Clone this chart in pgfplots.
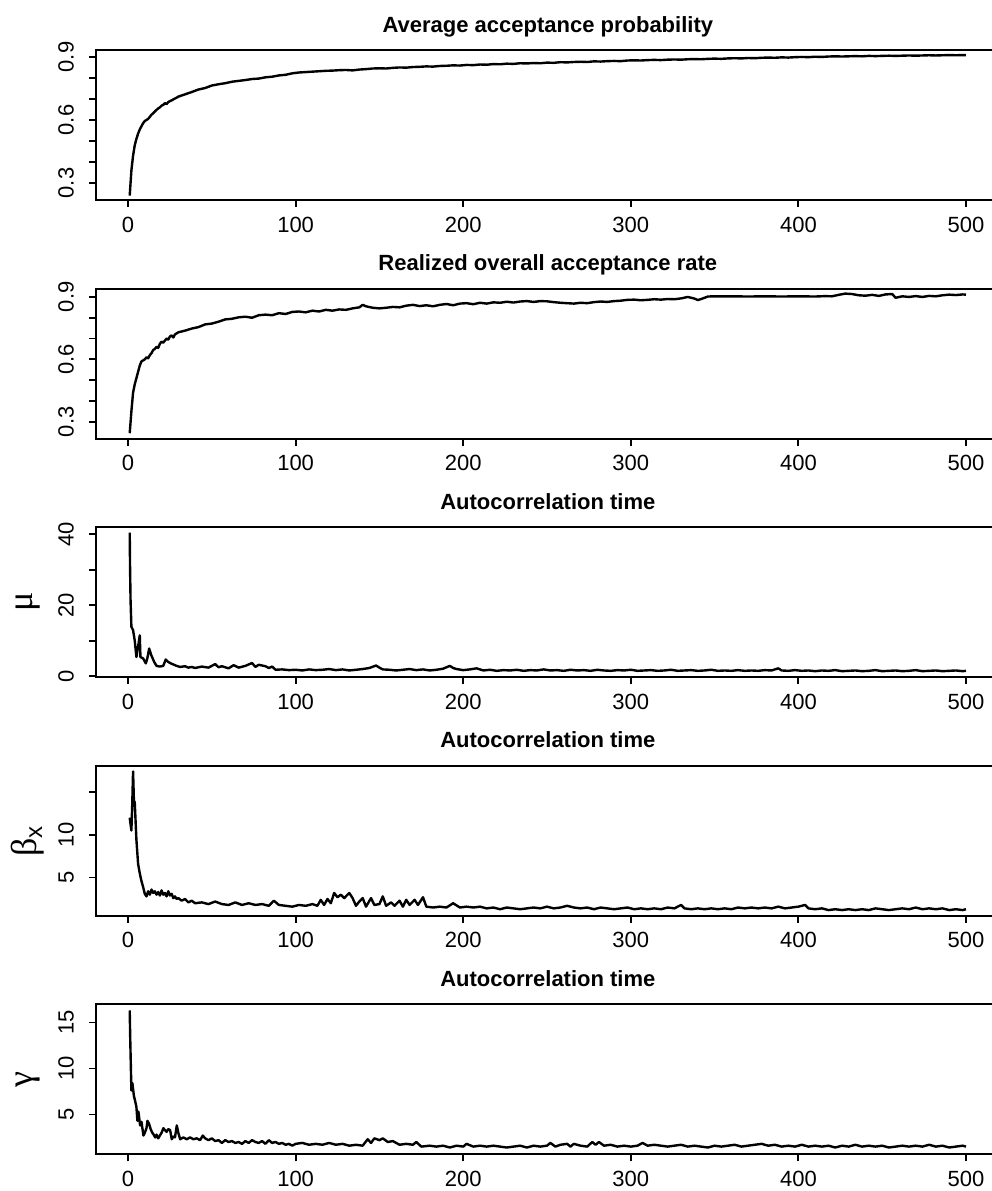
\documentclass[border=0pt]{standalone}
\usepackage{pgfplots}
\pgfplotsset{compat=1.18}
\usepackage{fontspec}
\setmainfont{Liberation Sans}
\newfontfamily\grk{Liberation Serif}

\pgfplotsset{
  rline/.style={black, line width=1.2pt, line join=round, no markers},
  rpanel/.style={
    scale only axis, width=451.65pt, height=75pt,
    xmin=-19, xmax=520,
    xtick={0,100,200,300,400,500},
    tick align=outside, tick pos=left,
    major tick length=3.5pt,
    axis line style={line width=1pt},
    every tick/.style={black, line width=0.9pt},
    tick label style={font=\fontsize{11}{13}\selectfont},
    /pgf/number format/assume math mode=true,
    xticklabel style={yshift=-1.3pt},
    yticklabel style={xshift=-4.2pt, rotate=90, anchor=south},
    title style={font=\bfseries\fontsize{11}{13}\selectfont, at={(0.5,1)}, anchor=base, yshift=3pt},
    ylabel style={at={(axis description cs:-0.0755,0.5)}, anchor=center, font=\fontsize{18}{20}\selectfont},
    anchor=south west,
  }
}

\begin{document}
\begin{tikzpicture}
% Panel 1
\begin{axis}[rpanel, at={(48.1pt,-100pt)}, ymin=0.219, ymax=0.933,
  ytick={0.3,0.4,0.5,0.6,0.7,0.8,0.9}, yticklabels={0.3,,,0.6,,,0.9},
  title={Average acceptance probability}]
\addplot[rline] coordinates {
(1,0.24)(2,0.36)(3,0.43)(4,0.48)(5,0.51)(6,0.535)(7,0.555)(8,0.57)(9,0.585)(10,0.595)
(11,0.60)(12,0.605)(13,0.615)(14,0.625)(15,0.632)(16,0.64)(17,0.648)(18,0.655)(19,0.66)(20,0.668)
(21,0.672)(22,0.680)(23,0.676)(24,0.685)(25,0.690)(26,0.693)(27,0.698)(28,0.702)(29,0.706)(30,0.711)
(34,0.722)(38,0.733)(42,0.745)(46,0.752)(50,0.764)(54,0.770)(58,0.775)(62,0.782)(66,0.786)(70,0.790)
(74,0.795)(78,0.797)(82,0.803)(86,0.806)(90,0.812)(94,0.815)(98,0.822)(102,0.826)(106,0.828)(110,0.830)
(114,0.832)(118,0.834)(122,0.835)(126,0.837)(130,0.838)(134,0.836)(138,0.840)(142,0.842)(146,0.845)(150,0.846)
(154,0.845)(158,0.848)(162,0.850)(166,0.849)(170,0.852)(174,0.853)(178,0.855)(182,0.854)(186,0.857)(190,0.858)
(194,0.860)(198,0.859)(202,0.862)(206,0.861)(210,0.864)(214,0.863)(218,0.866)(222,0.865)(226,0.868)(230,0.867)
(234,0.870)(238,0.869)(242,0.871)(246,0.870)(250,0.873)(254,0.872)(258,0.875)(262,0.874)(266,0.876)(270,0.877)
(274,0.876)(278,0.879)(282,0.878)(286,0.880)(290,0.881)(294,0.880)(298,0.883)(302,0.884)(306,0.883)(310,0.885)
(314,0.886)(318,0.885)(322,0.887)(326,0.888)(330,0.887)(334,0.889)(338,0.890)(342,0.889)(346,0.891)(350,0.892)
(354,0.891)(358,0.893)(362,0.894)(366,0.893)(370,0.895)(374,0.894)(378,0.896)(382,0.897)(386,0.896)(390,0.898)
(394,0.897)(398,0.899)(402,0.900)(406,0.899)(410,0.901)(414,0.900)(418,0.902)(422,0.903)(426,0.902)(430,0.903)
(434,0.904)(438,0.903)(442,0.905)(446,0.904)(450,0.905)(454,0.906)(458,0.905)(462,0.906)(466,0.907)(470,0.906)
(474,0.907)(478,0.908)(482,0.907)(486,0.908)(490,0.909)(494,0.908)(498,0.909)(500,0.909)
};
\end{axis}
% Panel 2
\begin{axis}[rpanel, at={(48.1pt,-219.3pt)}, ymin=0.219, ymax=0.94,
  ytick={0.3,0.4,0.5,0.6,0.7,0.8,0.9}, yticklabels={0.3,,,0.6,,,0.9},
  title={Realized overall acceptance rate}]
\addplot[rline] coordinates {
(1,0.245)(2,0.35)(3,0.44)(4,0.48)(5,0.51)(6,0.54)(7,0.57)(8,0.59)(9,0.595)(10,0.60)
(11,0.61)(12,0.605)(13,0.62)(14,0.63)(15,0.645)(16,0.65)(17,0.66)(18,0.655)(19,0.675)(20,0.685)
(21,0.68)(22,0.69)(23,0.70)(24,0.695)(25,0.71)(26,0.715)(27,0.705)(28,0.72)(29,0.725)(30,0.73)
(34,0.738)(38,0.748)(42,0.755)(46,0.768)(50,0.772)(54,0.781)(58,0.792)(62,0.795)(66,0.802)(70,0.805)
(74,0.800)(78,0.812)(82,0.815)(86,0.812)(90,0.822)(94,0.818)(98,0.828)(102,0.830)(106,0.826)(110,0.834)
(114,0.830)(118,0.838)(122,0.834)(126,0.840)(130,0.838)(134,0.845)(138,0.850)(140,0.862)(142,0.855)(146,0.848)
(150,0.845)(154,0.848)(158,0.852)(162,0.850)(166,0.858)(170,0.862)(174,0.856)(178,0.860)(182,0.855)(186,0.862)
(190,0.866)(194,0.860)(198,0.868)(202,0.870)(206,0.865)(210,0.872)(214,0.868)(218,0.874)(222,0.872)(226,0.877)
(230,0.873)(234,0.878)(238,0.880)(242,0.876)(246,0.880)(250,0.879)(254,0.875)(258,0.872)(262,0.870)(266,0.868)
(270,0.872)(274,0.870)(278,0.875)(282,0.878)(286,0.876)(290,0.880)(294,0.882)(298,0.886)(302,0.887)(306,0.884)
(310,0.886)(314,0.889)(318,0.887)(322,0.890)(326,0.889)(330,0.893)(334,0.900)(338,0.892)(340,0.885)(342,0.890)
(346,0.902)(350,0.903)(360,0.903)(370,0.902)(380,0.903)(390,0.902)(400,0.903)(410,0.902)(416,0.904)(420,0.903)
(424,0.910)(428,0.916)(432,0.914)(436,0.908)(440,0.906)(444,0.910)(448,0.905)(452,0.912)(456,0.914)(458,0.896)
(462,0.903)(466,0.900)(470,0.904)(474,0.900)(478,0.905)(482,0.903)(486,0.908)(490,0.911)(494,0.909)(498,0.912)(500,0.911)
};
\end{axis}
% Panel 3
\begin{axis}[rpanel, at={(48.1pt,-338.6pt)}, ymin=-0.3, ymax=42,
  ytick={0,10,20,30,40}, yticklabels={0,,20,,40},
  title={Autocorrelation time}, ylabel={\grk μ}]
\addplot[rline] coordinates {
(1,40.5)(1.2,30.8)(1.5,21.4)(2,13.9)(3,13.0)(4,10.0)(5,5.4)(6,8.3)(7,11.5)(7.4,5.4)
(9,5.0)(10.6,3.6)(11.5,5.0)(12.6,7.8)(13.8,6.0)(15.6,4.0)(17,2.9)(19,2.7)(21,2.9)(22.5,4.7)
(24,4.0)(25.5,3.6)(27,3.3)(29,2.9)(31,2.6)
(34,2.8)(36,2.4)(38,2.6)(40,2.3)(44,2.7)(48,2.4)(52,3.4)(54,2.5)(56,2.8)(60,2.2)
(63,3.1)(66,2.4)(70,2.9)(74,3.7)(76,2.6)(78,3.2)(82,2.8)(84,2.3)(86,2.7)(88,1.8)
(92,1.9)(96,1.7)(100,1.8)(104,1.6)(108,1.9)(112,1.7)(116,1.8)(120,2.0)(124,1.7)(128,1.9)
(132,1.6)(136,1.8)(140,2.0)(144,2.3)(148,3.0)(150,2.4)(152,1.9)(156,1.8)(160,1.6)(164,1.8)
(168,2.0)(172,1.7)(176,1.9)(180,1.6)(184,1.8)(188,2.1)(192,2.9)(194,2.3)(196,2.0)(200,1.7)
(204,1.9)(208,2.2)(212,1.6)(216,1.8)(220,1.5)(224,1.7)(228,1.6)(232,1.8)(236,1.5)(240,1.7)
(244,1.6)(248,1.9)(252,1.6)(256,1.7)(260,1.5)(264,1.8)(268,1.6)(272,1.7)(276,1.5)(280,1.8)
(284,1.6)(288,1.5)(292,1.7)(296,1.6)(300,1.8)(304,1.5)(308,1.6)(312,1.7)(316,1.5)(320,1.6)
(324,1.8)(328,1.5)(332,1.6)(336,1.7)(340,1.5)(344,1.6)(348,1.8)(352,1.5)(356,1.6)(360,1.5)
(364,1.7)(368,1.5)(372,1.6)(376,1.5)(380,1.7)(384,1.6)(388,2.2)(390,1.6)(394,1.5)(398,1.7)
(402,1.5)(406,1.6)(410,1.4)(414,1.6)(418,1.5)(422,1.7)(426,1.4)(430,1.5)(434,1.6)(438,1.4)
(442,1.5)(446,1.7)(450,1.4)(454,1.5)(458,1.6)(462,1.4)(466,1.5)(470,1.7)(474,1.4)(478,1.5)
(482,1.6)(486,1.4)(490,1.5)(494,1.6)(498,1.4)(500,1.5)
};
\end{axis}
% Panel 4
\begin{axis}[rpanel, at={(48.1pt,-457.9pt)}, ymin=0.53, ymax=18.06,
  ytick={5,10,15}, yticklabels={5,10,},
  title={Autocorrelation time}, ylabel={{\grk β}\textsubscript{\fontsize{12}{14}\selectfont x}}]
\addplot[rline] coordinates {
(1,12.0)(2,10.5)(2.5,13.5)(3,17.4)(3.5,14.0)(4,13.8)(5,9.4)(6,6.6)(7,5.5)(8,4.6)
(9,3.9)(10,3.1)(11,2.8)(12,3.4)(13,3.0)(14,3.6)(15,3.2)(16,3.4)(17,3.0)(18,3.3)
(19,2.9)(20,3.5)(21,3.0)(22,3.2)(23,2.8)(24,3.4)(25,2.9)(26,3.1)(27,2.6)(28,2.8)
(29,2.5)(30,2.6)(32,2.3)(34,2.5)(36,2.1)(38,2.3)(40,2.0)(44,2.1)(48,1.9)(52,2.2)
(56,1.9)(60,1.8)(64,2.1)(68,1.8)(72,2.0)(76,1.8)(80,1.9)(84,1.7)(87,2.3)(90,1.8)
(94,1.7)(98,1.6)(102,1.8)(106,1.7)(110,1.9)(113,1.7)(115,2.4)(117,1.8)(119,2.5)(121,2.0)
(123,3.2)(125,2.7)(127,3.0)(129,2.6)(132,3.2)(134,2.6)(136,1.7)(138,2.2)(140,2.6)(142,1.6)
(145,2.6)(147,1.8)(150,1.9)(152,2.8)(154,1.7)(157,2.1)(159,1.7)(162,2.3)(164,1.6)(166,2.4)
(168,1.8)(171,2.4)(173,1.8)(176,2.7)(178,1.6)(182,1.5)(186,1.6)(190,1.5)(194,2.0)(198,1.5)
(202,1.6)(206,1.5)(210,1.6)(214,1.4)(218,1.5)(222,1.3)(226,1.5)(230,1.4)(234,1.3)(238,1.4)
(242,1.5)(246,1.4)(250,1.6)(254,1.4)(258,1.5)(262,1.7)(266,1.5)(270,1.4)(274,1.5)(278,1.3)
(282,1.5)(286,1.4)(290,1.3)(294,1.4)(298,1.5)(302,1.3)(306,1.4)(310,1.3)(314,1.4)(318,1.3)
(322,1.5)(326,1.4)(330,1.8)(332,1.4)(336,1.3)(340,1.4)(344,1.3)(348,1.4)(352,1.3)(356,1.4)
(360,1.3)(364,1.5)(368,1.4)(372,1.5)(376,1.4)(380,1.5)(384,1.4)(388,1.6)(392,1.4)(396,1.5)
(400,1.6)(404,1.8)(406,1.4)(410,1.3)(414,1.4)(418,1.2)(422,1.3)(426,1.2)(430,1.3)(434,1.2)
(438,1.3)(442,1.2)(446,1.4)(450,1.3)(454,1.2)(458,1.3)(462,1.4)(466,1.3)(470,1.5)(474,1.3)
(478,1.4)(482,1.3)(486,1.4)(490,1.2)(494,1.3)(498,1.2)(500,1.3)
};
\end{axis}
% Panel 5
\begin{axis}[rpanel, at={(48.1pt,-577.2pt)}, ymin=0.65, ymax=16.96,
  ytick={5,10,15}, yticklabels={5,10,15},
  title={Autocorrelation time}, ylabel={\grk γ}]
\addplot[rline] coordinates {
(1,16.3)(1.3,13.3)(2,7.6)(2.6,8.4)(3.5,7.0)(4.2,6.5)(5,5.8)(5.6,4.3)(6.2,5.3)(7.2,3.8)
(8,4.2)(9.2,2.7)(10,3.0)(11,3.5)(11.6,4.3)(12.5,4.0)(13.5,3.4)(14.5,3.0)(15.3,2.8)(16.2,2.5)
(17,2.8)(18,2.4)(19,2.7)(20,3.0)(21.1,3.5)(22,3.3)(23,3.1)(24,3.4)(25.1,3.3)(26.1,2.3)
(27,2.6)(28,2.5)(29.1,3.8)(30,3.0)(31.1,2.3)(33,2.5)(35,2.3)(37,2.5)(39,2.3)(41,2.4)
(43,2.2)(44.6,2.7)(46,2.4)(48,2.2)(50,2.4)(52,2.1)(54,2.2)(56,1.9)(58,2.2)(60,2.0)
(62,2.1)(64,1.9)(66,2.0)(68,1.8)(70,2.1)(72,1.9)(74,2.2)(76,2.0)(78,1.9)(80,2.1)
(82,1.8)(84,2.2)(86,1.9)(88,2.0)(90,1.8)(92,1.9)(94,1.7)(96,1.8)(98,1.6)(100,1.8)
(104,1.9)(108,1.7)(112,1.8)(116,1.7)(120,1.9)(124,1.7)(128,1.8)(132,1.6)(136,1.7)(140,1.6)
(143,2.3)(145,1.9)(147,2.4)(150,2.2)(152,2.4)(155,2.0)(158,2.1)(162,1.7)(166,1.8)(170,1.7)
(172,2.0)(175,1.5)(180,1.6)(184,1.5)(188,1.6)(192,1.4)(196,1.6)(200,1.5)(202,1.8)(206,1.5)
(210,1.6)(214,1.5)(218,1.6)(222,1.5)(226,1.4)(230,1.5)(234,1.6)(238,1.4)(242,1.6)(246,1.5)
(250,1.6)(252,1.9)(255,1.5)(258,1.7)(262,1.8)(264,1.5)(266,1.8)(270,1.6)(274,1.5)(277,2.0)
(279,1.7)(281,2.0)(284,1.6)(288,1.7)(292,1.5)(296,1.6)(300,1.5)(304,1.6)(307,1.9)(310,1.6)
(314,1.7)(318,1.6)(322,1.5)(326,1.6)(330,1.7)(334,1.5)(338,1.6)(342,1.5)(346,1.4)(350,1.6)
(354,1.5)(358,1.6)(362,1.7)(366,1.5)(370,1.6)(374,1.7)(378,1.8)(382,1.6)(386,1.7)(390,1.5)
(394,1.6)(398,1.5)(402,1.7)(406,1.5)(410,1.6)(414,1.5)(418,1.6)(422,1.4)(426,1.6)(430,1.5)
(434,1.7)(438,1.5)(442,1.6)(446,1.5)(450,1.6)(454,1.4)(458,1.5)(462,1.6)(466,1.5)(470,1.6)
(474,1.5)(478,1.7)(482,1.5)(486,1.6)(490,1.4)(494,1.5)(498,1.6)(500,1.5)
};
\end{axis}
\pgfresetboundingbox
\useasboundingbox (0,0) rectangle (496pt,-595.5pt);
\end{tikzpicture}
\end{document}
